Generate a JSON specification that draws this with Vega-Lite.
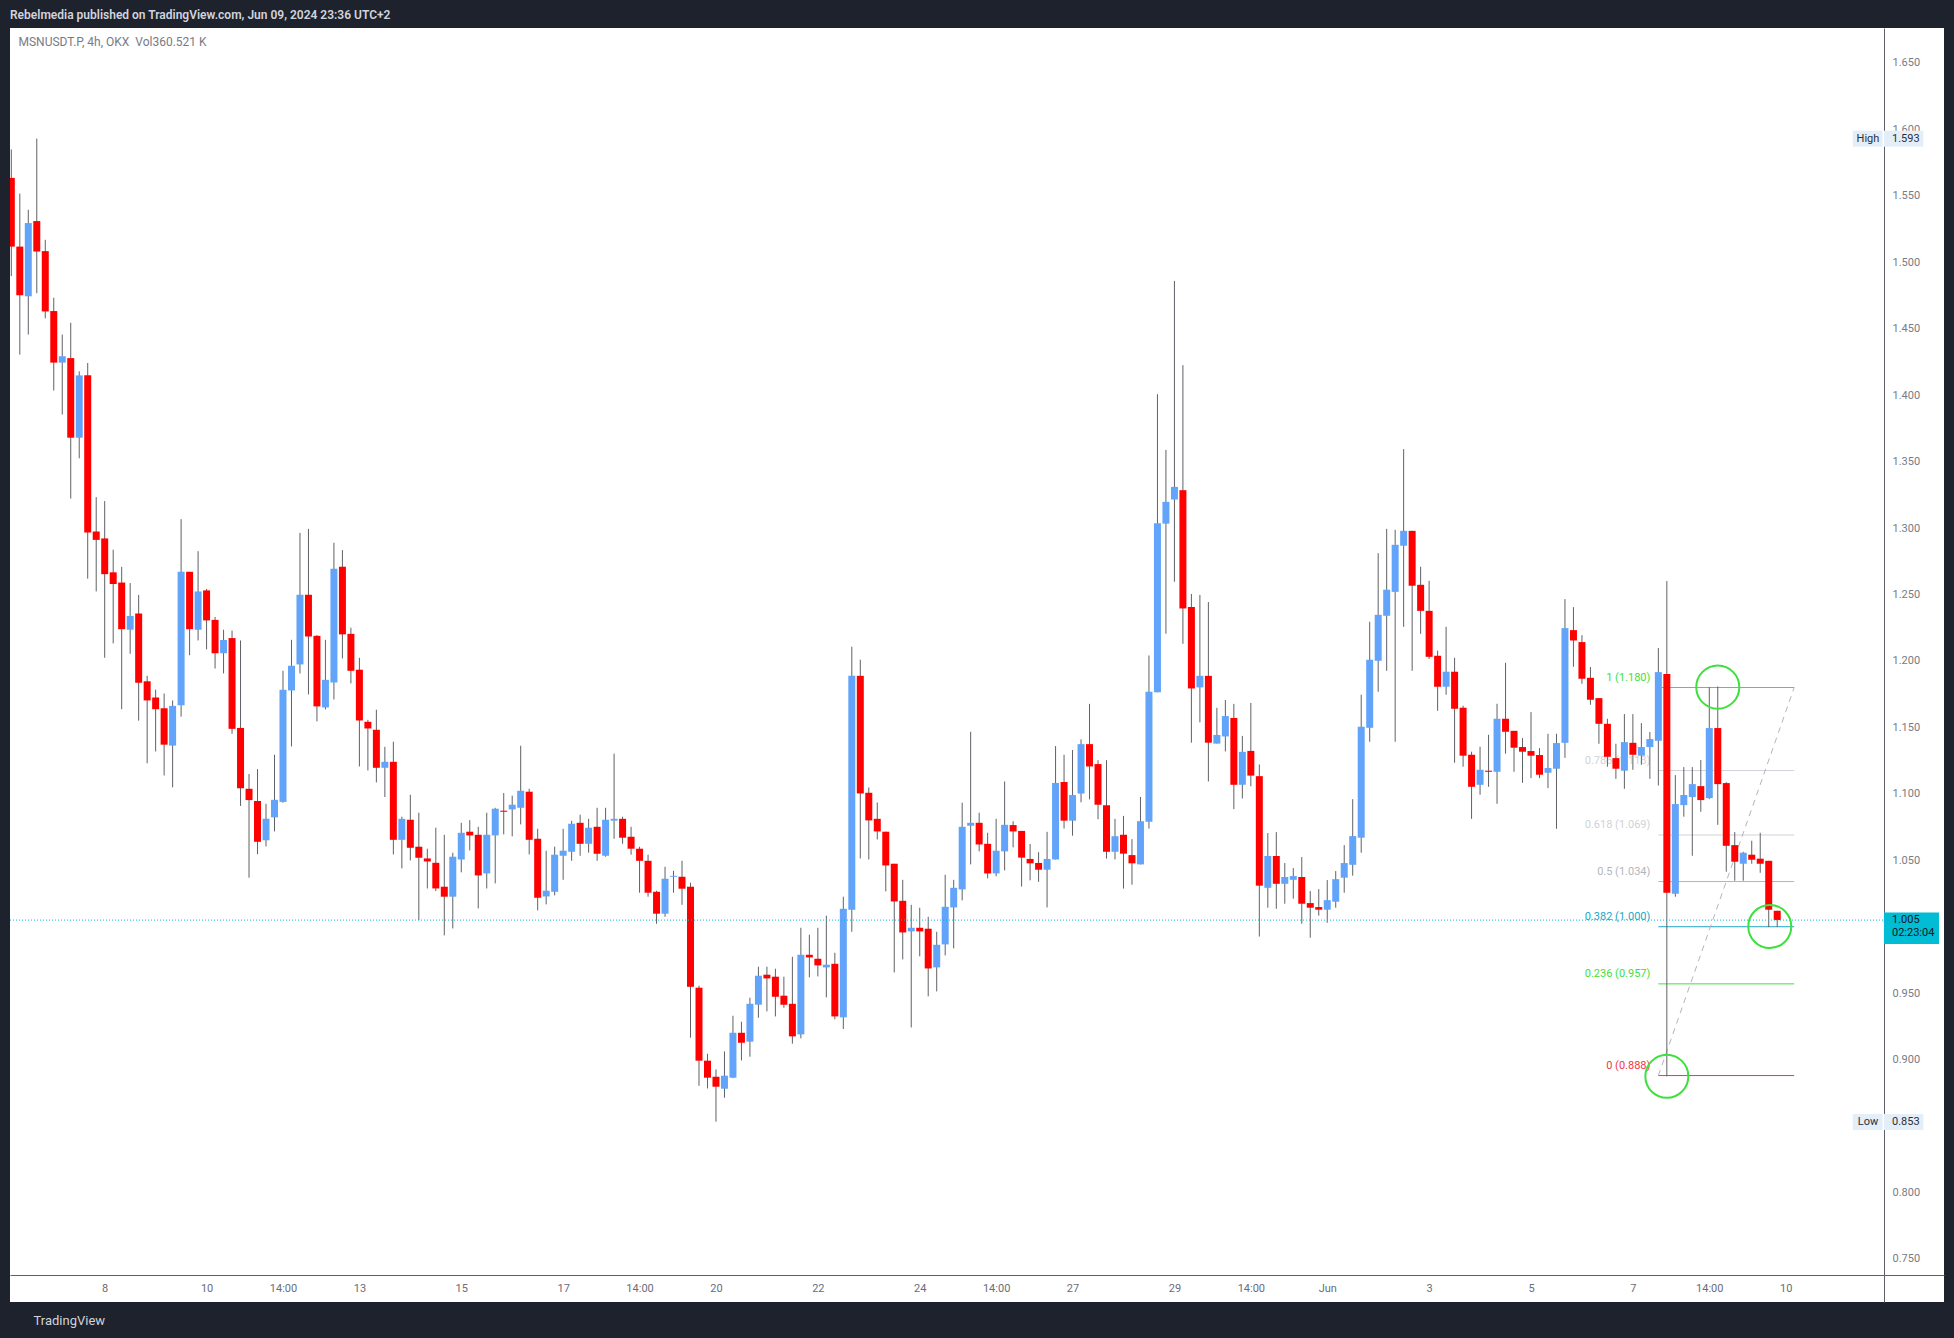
{
  "$schema": "https://vega.github.io/schema/vega-lite/v6.json",
  "width": 1934,
  "height": 1274,
  "autosize": {"type": "none"},
  "padding": {"left": 10, "top": 28, "right": 10, "bottom": 36},
  "background": "#1e222d",
  "view": {"fill": "#ffffff", "stroke": null},
  "config": {"font": "Roboto"},
  "title": {
    "text": "Rebelmedia published on TradingView.com, Jun 09, 2024 23:36 UTC+2",
    "anchor": "start",
    "frame": "group",
    "orient": "top",
    "offset": 6,
    "fontSize": 12,
    "fontWeight": 600,
    "color": "#d1d4dc"
  },
  "datasets": {
    "candles": [
      {"t":"2024-05-06T06:00","o":1.5635,"h":1.5849,"l":1.4896,"c":1.5118},
      {"t":"2024-05-06T10:00","o":1.5118,"h":1.5517,"l":1.4305,"c":1.4752},
      {"t":"2024-05-06T14:00","o":1.4744,"h":1.5395,"l":1.4456,"c":1.5295},
      {"t":"2024-05-06T18:00","o":1.5310,"h":1.5931,"l":1.4767,"c":1.5081},
      {"t":"2024-05-06T22:00","o":1.5084,"h":1.5169,"l":1.4578,"c":1.4630},
      {"t":"2024-05-07T02:00","o":1.4633,"h":1.4733,"l":1.4035,"c":1.4245},
      {"t":"2024-05-07T06:00","o":1.4245,"h":1.4456,"l":1.3854,"c":1.4293},
      {"t":"2024-05-07T10:00","o":1.4279,"h":1.4545,"l":1.3222,"c":1.3680},
      {"t":"2024-05-07T14:00","o":1.3680,"h":1.4179,"l":1.3525,"c":1.4149},
      {"t":"2024-05-07T18:00","o":1.4149,"h":1.4242,"l":1.2619,"c":1.2967},
      {"t":"2024-05-07T22:00","o":1.2974,"h":1.3233,"l":1.2523,"c":1.2911},
      {"t":"2024-05-08T02:00","o":1.2922,"h":1.3203,"l":1.2024,"c":1.2653},
      {"t":"2024-05-08T06:00","o":1.2667,"h":1.2837,"l":1.2132,"c":1.2579},
      {"t":"2024-05-08T10:00","o":1.2590,"h":1.2708,"l":1.1637,"c":1.2239},
      {"t":"2024-05-08T14:00","o":1.2235,"h":1.2586,"l":1.2054,"c":1.2339},
      {"t":"2024-05-08T18:00","o":1.2357,"h":1.2497,"l":1.1551,"c":1.1836},
      {"t":"2024-05-08T22:00","o":1.1847,"h":1.1888,"l":1.1230,"c":1.1703},
      {"t":"2024-05-09T02:00","o":1.1725,"h":1.1784,"l":1.1319,"c":1.1637},
      {"t":"2024-05-09T06:00","o":1.1644,"h":1.1755,"l":1.1138,"c":1.1370},
      {"t":"2024-05-09T10:00","o":1.1363,"h":1.1703,"l":1.1049,"c":1.1662},
      {"t":"2024-05-09T14:00","o":1.1666,"h":1.3067,"l":1.1581,"c":1.2671},
      {"t":"2024-05-09T18:00","o":1.2671,"h":1.2671,"l":1.2043,"c":1.2239},
      {"t":"2024-05-09T22:00","o":1.2235,"h":1.2826,"l":1.2154,"c":1.2523},
      {"t":"2024-05-10T02:00","o":1.2531,"h":1.2542,"l":1.2087,"c":1.2305},
      {"t":"2024-05-10T06:00","o":1.2309,"h":1.2331,"l":1.1943,"c":1.2058},
      {"t":"2024-05-10T10:00","o":1.2058,"h":1.2235,"l":1.1906,"c":1.2158},
      {"t":"2024-05-10T14:00","o":1.2172,"h":1.2228,"l":1.1452,"c":1.1489},
      {"t":"2024-05-10T18:00","o":1.1496,"h":1.2154,"l":1.0909,"c":1.1042},
      {"t":"2024-05-10T22:00","o":1.1038,"h":1.1149,"l":1.0369,"c":1.0953},
      {"t":"2024-05-11T02:00","o":1.0946,"h":1.1186,"l":1.0546,"c":1.0639},
      {"t":"2024-05-11T06:00","o":1.0650,"h":1.0925,"l":1.0604,"c":1.0812},
      {"t":"2024-05-11T10:00","o":1.0823,"h":1.1294,"l":1.0717,"c":1.0955},
      {"t":"2024-05-11T14:00","o":1.0939,"h":1.1926,"l":1.0933,"c":1.1783},
      {"t":"2024-05-11T18:00","o":1.1778,"h":1.2159,"l":1.1357,"c":1.1964},
      {"t":"2024-05-11T22:00","o":1.1974,"h":1.2964,"l":1.1906,"c":1.2498},
      {"t":"2024-05-12T02:00","o":1.2498,"h":1.2994,"l":1.1748,"c":1.2184},
      {"t":"2024-05-12T06:00","o":1.2189,"h":1.2194,"l":1.1545,"c":1.1658},
      {"t":"2024-05-12T10:00","o":1.1650,"h":1.2159,"l":1.1635,"c":1.1858},
      {"t":"2024-05-12T14:00","o":1.1838,"h":1.2889,"l":1.1710,"c":1.2694},
      {"t":"2024-05-12T18:00","o":1.2709,"h":1.2834,"l":1.2019,"c":1.2200},
      {"t":"2024-05-12T22:00","o":1.2204,"h":1.2250,"l":1.1831,"c":1.1926},
      {"t":"2024-05-13T02:00","o":1.1934,"h":1.2024,"l":1.1206,"c":1.1552},
      {"t":"2024-05-13T06:00","o":1.1542,"h":1.1557,"l":1.1176,"c":1.1492},
      {"t":"2024-05-13T10:00","o":1.1482,"h":1.1633,"l":1.1086,"c":1.1196},
      {"t":"2024-05-13T14:00","o":1.1196,"h":1.1354,"l":1.0976,"c":1.1241},
      {"t":"2024-05-13T18:00","o":1.1241,"h":1.1392,"l":1.0544,"c":1.0654},
      {"t":"2024-05-13T22:00","o":1.0654,"h":1.0828,"l":1.0439,"c":1.0812},
      {"t":"2024-05-14T02:00","o":1.0805,"h":1.0993,"l":1.0499,"c":1.0594},
      {"t":"2024-05-14T06:00","o":1.0602,"h":1.0858,"l":1.0050,"c":1.0519},
      {"t":"2024-05-14T10:00","o":1.0514,"h":1.0587,"l":1.0288,"c":1.0491},
      {"t":"2024-05-14T14:00","o":1.0481,"h":1.0745,"l":1.0268,"c":1.0288},
      {"t":"2024-05-14T18:00","o":1.0301,"h":1.0692,"l":0.9935,"c":1.0226},
      {"t":"2024-05-14T22:00","o":1.0226,"h":1.0557,"l":0.9987,"c":1.0527},
      {"t":"2024-05-15T02:00","o":1.0506,"h":1.0782,"l":1.0409,"c":1.0707},
      {"t":"2024-05-15T06:00","o":1.0715,"h":1.0802,"l":1.0574,"c":1.0687},
      {"t":"2024-05-15T10:00","o":1.0692,"h":1.0752,"l":1.0138,"c":1.0386},
      {"t":"2024-05-15T14:00","o":1.0401,"h":1.0858,"l":1.0288,"c":1.0692},
      {"t":"2024-05-15T18:00","o":1.0687,"h":1.0895,"l":1.0326,"c":1.0888},
      {"t":"2024-05-15T22:00","o":1.0873,"h":1.1006,"l":1.0695,"c":1.0865},
      {"t":"2024-05-16T02:00","o":1.0883,"h":1.0986,"l":1.0680,"c":1.0918},
      {"t":"2024-05-16T06:00","o":1.0895,"h":1.1362,"l":1.0770,"c":1.1023},
      {"t":"2024-05-16T10:00","o":1.1016,"h":1.1038,"l":1.0544,"c":1.0654},
      {"t":"2024-05-16T14:00","o":1.0662,"h":1.0737,"l":1.0123,"c":1.0218},
      {"t":"2024-05-16T18:00","o":1.0228,"h":1.0572,"l":1.0168,"c":1.0271},
      {"t":"2024-05-16T22:00","o":1.0263,"h":1.0602,"l":1.0236,"c":1.0542},
      {"t":"2024-05-17T02:00","o":1.0534,"h":1.0737,"l":1.0353,"c":1.0572},
      {"t":"2024-05-17T06:00","o":1.0564,"h":1.0797,"l":1.0496,"c":1.0775},
      {"t":"2024-05-17T10:00","o":1.0782,"h":1.0843,"l":1.0534,"c":1.0624},
      {"t":"2024-05-17T14:00","o":1.0624,"h":1.0812,"l":1.0557,"c":1.0745},
      {"t":"2024-05-17T18:00","o":1.0752,"h":1.0895,"l":1.0496,"c":1.0549},
      {"t":"2024-05-17T22:00","o":1.0534,"h":1.0895,"l":1.0527,"c":1.0805},
      {"t":"2024-05-18T02:00","o":1.0798,"h":1.1302,"l":1.0662,"c":1.0812},
      {"t":"2024-05-18T06:00","o":1.0812,"h":1.0828,"l":1.0624,"c":1.0670},
      {"t":"2024-05-18T10:00","o":1.0677,"h":1.0752,"l":1.0542,"c":1.0587},
      {"t":"2024-05-18T14:00","o":1.0587,"h":1.0602,"l":1.0256,"c":1.0496},
      {"t":"2024-05-18T18:00","o":1.0496,"h":1.0542,"l":1.0226,"c":1.0256},
      {"t":"2024-05-18T22:00","o":1.0263,"h":1.0271,"l":1.0022,"c":1.0098},
      {"t":"2024-05-19T02:00","o":1.0098,"h":1.0451,"l":1.0075,"c":1.0361},
      {"t":"2024-05-19T06:00","o":1.0376,"h":1.0421,"l":1.0256,"c":1.0383},
      {"t":"2024-05-19T10:00","o":1.0376,"h":1.0496,"l":1.0165,"c":1.0286},
      {"t":"2024-05-19T14:00","o":1.0301,"h":1.0331,"l":0.9165,"c":0.9548},
      {"t":"2024-05-19T18:00","o":0.9541,"h":0.9556,"l":0.8803,"c":0.8992},
      {"t":"2024-05-19T22:00","o":0.8992,"h":0.9044,"l":0.8783,"c":0.8864},
      {"t":"2024-05-20T02:00","o":0.8871,"h":0.8926,"l":0.8533,"c":0.8796},
      {"t":"2024-05-20T06:00","o":0.8781,"h":0.9062,"l":0.8713,"c":0.8879},
      {"t":"2024-05-20T10:00","o":0.8864,"h":0.9330,"l":0.8860,"c":0.9202},
      {"t":"2024-05-20T14:00","o":0.9202,"h":0.9285,"l":0.8994,"c":0.9127},
      {"t":"2024-05-20T18:00","o":0.9135,"h":0.9466,"l":0.9022,"c":0.9420},
      {"t":"2024-05-20T22:00","o":0.9413,"h":0.9699,"l":0.9315,"c":0.9631},
      {"t":"2024-05-21T02:00","o":0.9639,"h":0.9699,"l":0.9363,"c":0.9611},
      {"t":"2024-05-21T06:00","o":0.9624,"h":0.9684,"l":0.9325,"c":0.9473},
      {"t":"2024-05-21T10:00","o":0.9481,"h":0.9624,"l":0.9390,"c":0.9413},
      {"t":"2024-05-21T14:00","o":0.9420,"h":0.9774,"l":0.9120,"c":0.9175},
      {"t":"2024-05-21T18:00","o":0.9190,"h":0.9992,"l":0.9160,"c":0.9789},
      {"t":"2024-05-21T22:00","o":0.9789,"h":0.9940,"l":0.9619,"c":0.9769},
      {"t":"2024-05-22T02:00","o":0.9759,"h":0.9992,"l":0.9626,"c":0.9709},
      {"t":"2024-05-22T06:00","o":0.9694,"h":1.0083,"l":0.9468,"c":0.9714},
      {"t":"2024-05-22T10:00","o":0.9721,"h":0.9804,"l":0.9303,"c":0.9325},
      {"t":"2024-05-22T14:00","o":0.9318,"h":1.0226,"l":0.9230,"c":1.0135},
      {"t":"2024-05-22T18:00","o":1.0128,"h":1.2107,"l":0.9962,"c":1.1888},
      {"t":"2024-05-22T22:00","o":1.1888,"h":1.2009,"l":1.0514,"c":1.1003},
      {"t":"2024-05-23T02:00","o":1.1008,"h":1.1048,"l":1.0506,"c":1.0800},
      {"t":"2024-05-23T06:00","o":1.0812,"h":1.0935,"l":1.0657,"c":1.0717},
      {"t":"2024-05-23T10:00","o":1.0715,"h":1.0715,"l":1.0266,"c":1.0461},
      {"t":"2024-05-23T14:00","o":1.0474,"h":1.0474,"l":0.9656,"c":1.0190},
      {"t":"2024-05-23T18:00","o":1.0195,"h":1.0353,"l":0.9754,"c":0.9957},
      {"t":"2024-05-23T22:00","o":0.9965,"h":1.0165,"l":0.9242,"c":0.9992},
      {"t":"2024-05-24T02:00","o":0.9992,"h":1.0143,"l":0.9777,"c":0.9965},
      {"t":"2024-05-24T06:00","o":0.9985,"h":1.0075,"l":0.9476,"c":0.9686},
      {"t":"2024-05-24T10:00","o":0.9694,"h":0.9962,"l":0.9513,"c":0.9864},
      {"t":"2024-05-24T14:00","o":0.9867,"h":1.0391,"l":0.9784,"c":1.0150},
      {"t":"2024-05-24T18:00","o":1.0145,"h":1.0353,"l":0.9837,"c":1.0293},
      {"t":"2024-05-24T22:00","o":1.0281,"h":1.0933,"l":1.0198,"c":1.0752},
      {"t":"2024-05-25T02:00","o":1.0760,"h":1.1467,"l":1.0469,"c":1.0782},
      {"t":"2024-05-25T06:00","o":1.0782,"h":1.0858,"l":1.0567,"c":1.0619},
      {"t":"2024-05-25T10:00","o":1.0624,"h":1.0707,"l":1.0364,"c":1.0401},
      {"t":"2024-05-25T14:00","o":1.0401,"h":1.0812,"l":1.0379,"c":1.0572},
      {"t":"2024-05-25T18:00","o":1.0567,"h":1.1093,"l":1.0424,"c":1.0767},
      {"t":"2024-05-25T22:00","o":1.0765,"h":1.0794,"l":1.0597,"c":1.0717},
      {"t":"2024-05-26T02:00","o":1.0721,"h":1.0721,"l":1.0302,"c":1.0520},
      {"t":"2024-05-26T06:00","o":1.0510,"h":1.0623,"l":1.0349,"c":1.0477},
      {"t":"2024-05-26T10:00","o":1.0480,"h":1.0561,"l":1.0338,"c":1.0429},
      {"t":"2024-05-26T14:00","o":1.0429,"h":1.0714,"l":1.0145,"c":1.0510},
      {"t":"2024-05-26T18:00","o":1.0506,"h":1.1359,"l":1.0506,"c":1.1082},
      {"t":"2024-05-26T22:00","o":1.1089,"h":1.1294,"l":1.0739,"c":1.0798},
      {"t":"2024-05-27T02:00","o":1.0798,"h":1.1330,"l":1.0685,"c":1.0991},
      {"t":"2024-05-27T06:00","o":1.1002,"h":1.1410,"l":1.0936,"c":1.1374},
      {"t":"2024-05-27T10:00","o":1.1374,"h":1.1677,"l":1.0958,"c":1.1206},
      {"t":"2024-05-27T14:00","o":1.1224,"h":1.1253,"l":1.0809,"c":1.0918},
      {"t":"2024-05-27T18:00","o":1.0914,"h":1.1253,"l":1.0513,"c":1.0564},
      {"t":"2024-05-27T22:00","o":1.0564,"h":1.0812,"l":1.0506,"c":1.0681},
      {"t":"2024-05-28T02:00","o":1.0692,"h":1.0834,"l":1.0287,"c":1.0550},
      {"t":"2024-05-28T06:00","o":1.0539,"h":1.0659,"l":1.0316,"c":1.0477},
      {"t":"2024-05-28T10:00","o":1.0469,"h":1.0976,"l":1.0469,"c":1.0794},
      {"t":"2024-05-28T14:00","o":1.0790,"h":1.2041,"l":1.0739,"c":1.1768},
      {"t":"2024-05-28T18:00","o":1.1764,"h":1.4007,"l":1.1764,"c":1.3037},
      {"t":"2024-05-28T22:00","o":1.3033,"h":1.3588,"l":1.2205,"c":1.3197},
      {"t":"2024-05-29T02:00","o":1.3215,"h":1.4860,"l":1.2596,"c":1.3310},
      {"t":"2024-05-29T06:00","o":1.3285,"h":1.4226,"l":1.2129,"c":1.2395},
      {"t":"2024-05-29T10:00","o":1.2406,"h":1.2504,"l":1.1385,"c":1.1793},
      {"t":"2024-05-29T14:00","o":1.1801,"h":1.2497,"l":1.1538,"c":1.1888},
      {"t":"2024-05-29T18:00","o":1.1888,"h":1.2443,"l":1.1093,"c":1.1385},
      {"t":"2024-05-29T22:00","o":1.1378,"h":1.1647,"l":1.1378,"c":1.1443},
      {"t":"2024-05-30T02:00","o":1.1432,"h":1.1706,"l":1.1319,"c":1.1585},
      {"t":"2024-05-30T06:00","o":1.1571,"h":1.1677,"l":1.0885,"c":1.1068},
      {"t":"2024-05-30T10:00","o":1.1068,"h":1.1436,"l":1.0965,"c":1.1316},
      {"t":"2024-05-30T14:00","o":1.1323,"h":1.1684,"l":1.1057,"c":1.1137},
      {"t":"2024-05-30T18:00","o":1.1133,"h":1.1221,"l":0.9926,"c":1.0309},
      {"t":"2024-05-30T22:00","o":1.0293,"h":1.0705,"l":1.0143,"c":1.0532},
      {"t":"2024-05-31T02:00","o":1.0532,"h":1.0712,"l":1.0135,"c":1.0323},
      {"t":"2024-05-31T06:00","o":1.0323,"h":1.0479,"l":1.0173,"c":1.0374},
      {"t":"2024-05-31T10:00","o":1.0353,"h":1.0441,"l":1.0211,"c":1.0381},
      {"t":"2024-05-31T14:00","o":1.0374,"h":1.0524,"l":1.0022,"c":1.0173},
      {"t":"2024-05-31T18:00","o":1.0178,"h":1.0268,"l":0.9917,"c":1.0143},
      {"t":"2024-05-31T22:00","o":1.0148,"h":1.0283,"l":1.0083,"c":1.0128},
      {"t":"2024-06-01T02:00","o":1.0128,"h":1.0351,"l":1.0030,"c":1.0200},
      {"t":"2024-06-01T06:00","o":1.0188,"h":1.0419,"l":1.0143,"c":1.0358},
      {"t":"2024-06-01T10:00","o":1.0369,"h":1.0614,"l":1.0256,"c":1.0479},
      {"t":"2024-06-01T14:00","o":1.0466,"h":1.0960,"l":1.0384,"c":1.0682},
      {"t":"2024-06-01T18:00","o":1.0670,"h":1.1746,"l":1.0557,"c":1.1505},
      {"t":"2024-06-01T22:00","o":1.1497,"h":1.2295,"l":1.1392,"c":1.2009},
      {"t":"2024-06-02T02:00","o":1.2001,"h":1.2811,"l":1.1768,"c":1.2347},
      {"t":"2024-06-02T06:00","o":1.2340,"h":1.2994,"l":1.1926,"c":1.2536},
      {"t":"2024-06-02T10:00","o":1.2520,"h":1.2987,"l":1.1392,"c":1.2874},
      {"t":"2024-06-02T14:00","o":1.2867,"h":1.3594,"l":1.2257,"c":1.2979},
      {"t":"2024-06-02T18:00","o":1.2979,"h":1.2979,"l":1.1926,"c":1.2566},
      {"t":"2024-06-02T22:00","o":1.2573,"h":1.2709,"l":1.2204,"c":1.2377},
      {"t":"2024-06-03T02:00","o":1.2377,"h":1.2603,"l":1.2016,"c":1.2031},
      {"t":"2024-06-03T06:00","o":1.2039,"h":1.2077,"l":1.1625,"c":1.1806},
      {"t":"2024-06-03T10:00","o":1.1806,"h":1.2257,"l":1.1746,"c":1.1919},
      {"t":"2024-06-03T14:00","o":1.1919,"h":1.2024,"l":1.1234,"c":1.1640},
      {"t":"2024-06-03T18:00","o":1.1648,"h":1.1663,"l":1.1204,"c":1.1287},
      {"t":"2024-06-03T22:00","o":1.1294,"h":1.1317,"l":1.0812,"c":1.1053},
      {"t":"2024-06-04T02:00","o":1.1068,"h":1.1354,"l":1.0993,"c":1.1181},
      {"t":"2024-06-04T06:00","o":1.1174,"h":1.1444,"l":1.1053,"c":1.1166},
      {"t":"2024-06-04T10:00","o":1.1166,"h":1.1678,"l":1.0925,"c":1.1565},
      {"t":"2024-06-04T14:00","o":1.1565,"h":1.1986,"l":1.1302,"c":1.1467},
      {"t":"2024-06-04T18:00","o":1.1474,"h":1.1474,"l":1.1166,"c":1.1347},
      {"t":"2024-06-04T22:00","o":1.1352,"h":1.1419,"l":1.1083,"c":1.1317},
      {"t":"2024-06-05T02:00","o":1.1322,"h":1.1615,"l":1.1118,"c":1.1287},
      {"t":"2024-06-05T06:00","o":1.1292,"h":1.1344,"l":1.1118,"c":1.1144},
      {"t":"2024-06-05T10:00","o":1.1159,"h":1.1452,"l":1.1043,"c":1.1194},
      {"t":"2024-06-05T14:00","o":1.1189,"h":1.1452,"l":1.0737,"c":1.1382},
      {"t":"2024-06-05T18:00","o":1.1384,"h":1.2465,"l":1.1271,"c":1.2247},
      {"t":"2024-06-05T22:00","o":1.2232,"h":1.2405,"l":1.1956,"c":1.2154},
      {"t":"2024-06-06T02:00","o":1.2142,"h":1.2194,"l":1.1828,"c":1.1866},
      {"t":"2024-06-06T06:00","o":1.1873,"h":1.1954,"l":1.1670,"c":1.1708},
      {"t":"2024-06-06T10:00","o":1.1720,"h":1.1720,"l":1.1377,"c":1.1527},
      {"t":"2024-06-06T14:00","o":1.1527,"h":1.1565,"l":1.1204,"c":1.1279},
      {"t":"2024-06-06T18:00","o":1.1269,"h":1.1377,"l":1.1113,"c":1.1189},
      {"t":"2024-06-06T22:00","o":1.1174,"h":1.1600,"l":1.1038,"c":1.1389},
      {"t":"2024-06-07T02:00","o":1.1384,"h":1.1600,"l":1.1181,"c":1.1294},
      {"t":"2024-06-07T06:00","o":1.1287,"h":1.1532,"l":1.1219,"c":1.1352},
      {"t":"2024-06-07T10:00","o":1.1352,"h":1.1465,"l":1.1113,"c":1.1412},
      {"t":"2024-06-07T14:00","o":1.1399,"h":1.2097,"l":1.1063,"c":1.1916},
      {"t":"2024-06-07T18:00","o":1.1901,"h":1.2601,"l":0.8874,"c":1.0256},
      {"t":"2024-06-07T22:00","o":1.0248,"h":1.1141,"l":1.0226,"c":1.0923},
      {"t":"2024-06-08T02:00","o":1.0915,"h":1.1201,"l":1.0828,"c":1.0991},
      {"t":"2024-06-08T06:00","o":1.0976,"h":1.1201,"l":1.0534,"c":1.1073},
      {"t":"2024-06-08T10:00","o":1.1058,"h":1.1254,"l":1.0865,"c":1.0953},
      {"t":"2024-06-08T14:00","o":1.0968,"h":1.1803,"l":1.0960,"c":1.1495},
      {"t":"2024-06-08T18:00","o":1.1495,"h":1.1808,"l":1.0767,"c":1.1073},
      {"t":"2024-06-08T22:00","o":1.1081,"h":1.1088,"l":1.0414,"c":1.0609},
      {"t":"2024-06-09T02:00","o":1.0614,"h":1.0712,"l":1.0346,"c":1.0489},
      {"t":"2024-06-09T06:00","o":1.0474,"h":1.0564,"l":1.0346,"c":1.0557},
      {"t":"2024-06-09T10:00","o":1.0542,"h":1.0647,"l":1.0474,"c":1.0504},
      {"t":"2024-06-09T14:00","o":1.0512,"h":1.0707,"l":1.0406,"c":1.0474},
      {"t":"2024-06-09T18:00","o":1.0496,"h":1.0496,"l":0.9997,"c":1.0128},
      {"t":"2024-06-09T22:00","o":1.0120,"h":1.0120,"l":0.9997,"c":1.0050}
    ],
    "fib": [
      {"lvl":"1","p":1.180,"label":"1 (1.180)"},
      {"lvl":"0.786","p":1.1175,"label":"0.786 (1.118)"},
      {"lvl":"0.618","p":1.069,"label":"0.618 (1.069)"},
      {"lvl":"0.5","p":1.034,"label":"0.5 (1.034)"},
      {"lvl":"0.382","p":1.000,"label":"0.382 (1.000)"},
      {"lvl":"0.236","p":0.957,"label":"0.236 (0.957)"},
      {"lvl":"0","p":0.888,"label":"0 (0.888)"}
    ],
    "trend": [{"t1":"2024-06-07T14:00","p1":0.888,"t2":"2024-06-10T06:00","p2":1.180}],
    "circles": [
      {"t":"2024-06-07T18:00","p":0.8874},
      {"t":"2024-06-08T18:00","p":1.1803},
      {"t":"2024-06-09T18:30","p":1.0002}
    ],
    "tags": [
      {"k":"High","p":1.593,"v":"1.593"},
      {"k":"Low","p":0.853,"v":"0.853"}
    ],
    "last": [{"p":1.005,"v":"1.005","cd":"02:23:04"}]
  },
  "layer": [
    {
      "data": {"name": "fib"},
      "mark": {"type": "rule", "strokeWidth": 1},
      "encoding": {
        "x": {"datum": {"year":2024,"month":6,"date":7,"hours":14}, "type": "temporal",
              "scale": {"domain": [{"year":2024,"month":5,"date":6,"hours":5,"minutes":23},{"year":2024,"month":6,"date":13,"hours":4,"minutes":35}], "nice": false, "padding": 0}},
        "x2": {"datum": {"year":2024,"month":6,"date":10,"hours":6}},
        "y": {"field": "p", "type": "quantitative", "scale": {"domain": [0.7176, 1.6763], "nice": false, "zero": false, "padding": 0}},
        "color": {"field": "lvl", "type": "nominal", "legend": null,
                  "scale": {"domain": ["1","0.786","0.618","0.5","0.382","0.236","0"],
                            "range": ["#3ee03e","#cfd2d9","#cfd2d9","#b2b5be","#22a6c9","#3ee03e","#f23645"]}}
      }
    },
    {
      "data": {"name": "fib"},
      "mark": {"type": "text", "align": "right", "baseline": "bottom", "dx": -8, "dy": -5, "fontSize": 11},
      "encoding": {
        "x": {"datum": {"year":2024,"month":6,"date":7,"hours":14}, "type": "temporal"},
        "y": {"field": "p", "type": "quantitative"},
        "text": {"field": "label"},
        "color": {"field": "lvl", "type": "nominal", "legend": null}
      }
    },
    {
      "data": {"name": "trend"},
      "mark": {"type": "rule", "color": "#b2b5be", "strokeWidth": 1, "strokeDash": [6, 5]},
      "encoding": {
        "x": {"field": "t1", "type": "temporal"},
        "x2": {"field": "t2"},
        "y": {"field": "p1", "type": "quantitative"},
        "y2": {"field": "p2"}
      }
    },
    {
      "data": {"name": "candles"},
      "mark": {"type": "rule", "color": "#5f6166", "strokeWidth": 1, "clip": true},
      "encoding": {
        "x": {"field": "t", "type": "temporal",
              "scale": {"domain": [{"year":2024,"month":5,"date":6,"hours":5,"minutes":23},{"year":2024,"month":6,"date":13,"hours":4,"minutes":35}], "nice": false, "padding": 0},
              "axis": {
                "title": "TradingView",
                "values": [
                  {"year":2024,"month":5,"date":8,"hours":2},
                  {"year":2024,"month":5,"date":10,"hours":2},
                  {"year":2024,"month":5,"date":11,"hours":14},
                  {"year":2024,"month":5,"date":13,"hours":2},
                  {"year":2024,"month":5,"date":15,"hours":2},
                  {"year":2024,"month":5,"date":17,"hours":2},
                  {"year":2024,"month":5,"date":18,"hours":14},
                  {"year":2024,"month":5,"date":20,"hours":2},
                  {"year":2024,"month":5,"date":22,"hours":2},
                  {"year":2024,"month":5,"date":24,"hours":2},
                  {"year":2024,"month":5,"date":25,"hours":14},
                  {"year":2024,"month":5,"date":27,"hours":2},
                  {"year":2024,"month":5,"date":29,"hours":2},
                  {"year":2024,"month":5,"date":30,"hours":14},
                  {"year":2024,"month":6,"date":1,"hours":2},
                  {"year":2024,"month":6,"date":3,"hours":2},
                  {"year":2024,"month":6,"date":5,"hours":2},
                  {"year":2024,"month":6,"date":7,"hours":2},
                  {"year":2024,"month":6,"date":8,"hours":14},
                  {"year":2024,"month":6,"date":10,"hours":2}
                ],
                "labelExpr": "hours(datum.value) == 14 ? '14:00' : (date(datum.value) == 1 ? 'Jun' : '' + date(datum.value))",
                "offset": -27,
                "ticks": false,
                "grid": false,
                "domainColor": "#5d606b",
                "labelColor": "#6a6d78",
                "labelFontSize": 11,
                "labelBaseline": "middle",
                "labelPadding": 13,
                "labelOverlap": false,
                "labelFlush": false,
                "titleColor": "#d1d4dc",
                "titleFontSize": 13,
                "titleFontWeight": "normal",
                "titleAnchor": "start",
                "titleAlign": "left",
                "titleBaseline": "middle",
                "titleX": 23,
                "titleY": 45
              }},
        "y": {"field": "l", "type": "quantitative",
              "scale": {"domain": [0.7176, 1.6763], "nice": false, "zero": false, "padding": 0},
              "axis": {
                "orient": "right",
                "offset": -60,
                "title": "MSNUSDT.P, 4h, OKX\u00a0\u00a0Vol360.521\u00a0K",
                "titleAngle": 0,
                "titleAlign": "left",
                "titleBaseline": "middle",
                "titleX": -1866,
                "titleY": 13,
                "titleColor": "#787b86",
                "titleFontSize": 12,
                "titleFontWeight": "normal",
                "values": [0.75, 0.8, 0.9, 0.95, 1.05, 1.1, 1.15, 1.2, 1.25, 1.3, 1.35, 1.4, 1.45, 1.5, 1.55, 1.6, 1.65],
                "format": ".3f",
                "ticks": false,
                "grid": false,
                "domainColor": "#5d606b",
                "labelColor": "#787b86",
                "labelFontSize": 11,
                "labelPadding": 8
              }},
        "y2": {"field": "h"}
      }
    },
    {
      "data": {"name": "candles"},
      "mark": {"type": "bar", "width": 7, "clip": true},
      "encoding": {
        "x": {"field": "t", "type": "temporal"},
        "y": {"field": "o", "type": "quantitative"},
        "y2": {"field": "c"},
        "color": {"condition": {"test": "datum.c >= datum.o", "value": "#62a4fa"}, "value": "#ff0000"}
      }
    },
    {
      "data": {"name": "last"},
      "mark": {"type": "rule", "color": "#00bcd4", "strokeWidth": 1, "strokeDash": [1, 2]},
      "encoding": {
        "x": {"datum": {"year":2024,"month":5,"date":6,"hours":5,"minutes":23}, "type": "temporal"},
        "x2": {"datum": {"year":2024,"month":6,"date":12,"hours":0,"minutes":18}},
        "y": {"field": "p", "type": "quantitative"}
      }
    },
    {
      "data": {"name": "circles"},
      "mark": {"type": "point", "shape": "circle", "filled": false, "size": 1850, "strokeWidth": 2, "color": "#3ee03e", "opacity": 1},
      "encoding": {
        "x": {"field": "t", "type": "temporal"},
        "y": {"field": "p", "type": "quantitative"}
      }
    },
    {
      "data": {"name": "tags"},
      "mark": {"type": "point", "shape": "M0,-0.2L0.985,-0.2L0.985,0.2L0,0.2Z", "size": 6400, "filled": true, "fill": "#e3eef8", "strokeWidth": 0, "opacity": 1},
      "encoding": {
        "x": {"datum": {"year":2024,"month":6,"date":12,"hours":0,"minutes":18}, "type": "temporal"},
        "y": {"field": "p", "type": "quantitative"}
      }
    },
    {
      "data": {"name": "tags"},
      "mark": {"type": "point", "shape": "M-0.78,-0.2L-0.035,-0.2L-0.035,0.2L-0.78,0.2Z", "size": 6400, "filled": true, "fill": "#e3eef8", "strokeWidth": 0, "opacity": 1},
      "encoding": {
        "x": {"datum": {"year":2024,"month":6,"date":12,"hours":0,"minutes":18}, "type": "temporal"},
        "y": {"field": "p", "type": "quantitative"}
      }
    },
    {
      "data": {"name": "tags"},
      "mark": {"type": "text", "align": "left", "baseline": "middle", "dx": 8, "fontSize": 11, "color": "#2a2e39"},
      "encoding": {
        "x": {"datum": {"year":2024,"month":6,"date":12,"hours":0,"minutes":18}, "type": "temporal"},
        "y": {"field": "p", "type": "quantitative"},
        "text": {"field": "v"}
      }
    },
    {
      "data": {"name": "tags"},
      "mark": {"type": "text", "align": "center", "baseline": "middle", "dx": -16, "fontSize": 11, "color": "#2a2e39"},
      "encoding": {
        "x": {"datum": {"year":2024,"month":6,"date":12,"hours":0,"minutes":18}, "type": "temporal"},
        "y": {"field": "p", "type": "quantitative"},
        "text": {"field": "k"}
      }
    },
    {
      "data": {"name": "last"},
      "mark": {"type": "point", "shape": "M0,-0.19L1.375,-0.19L1.375,0.6L0,0.6Z", "size": 6400, "filled": true, "fill": "#00bcd4", "strokeWidth": 0, "opacity": 1},
      "encoding": {
        "x": {"datum": {"year":2024,"month":6,"date":12,"hours":0,"minutes":18}, "type": "temporal"},
        "y": {"field": "p", "type": "quantitative"}
      }
    },
    {
      "data": {"name": "last"},
      "mark": {"type": "text", "align": "left", "baseline": "middle", "dx": 8, "fontSize": 11, "color": "#131722"},
      "encoding": {
        "x": {"datum": {"year":2024,"month":6,"date":12,"hours":0,"minutes":18}, "type": "temporal"},
        "y": {"field": "p", "type": "quantitative"},
        "text": {"field": "v"}
      }
    },
    {
      "data": {"name": "last"},
      "mark": {"type": "text", "align": "left", "baseline": "middle", "dx": 8, "dy": 13, "fontSize": 11, "color": "#131722"},
      "encoding": {
        "x": {"datum": {"year":2024,"month":6,"date":12,"hours":0,"minutes":18}, "type": "temporal"},
        "y": {"field": "p", "type": "quantitative"},
        "text": {"field": "cd"}
      }
    }
  ]
}
